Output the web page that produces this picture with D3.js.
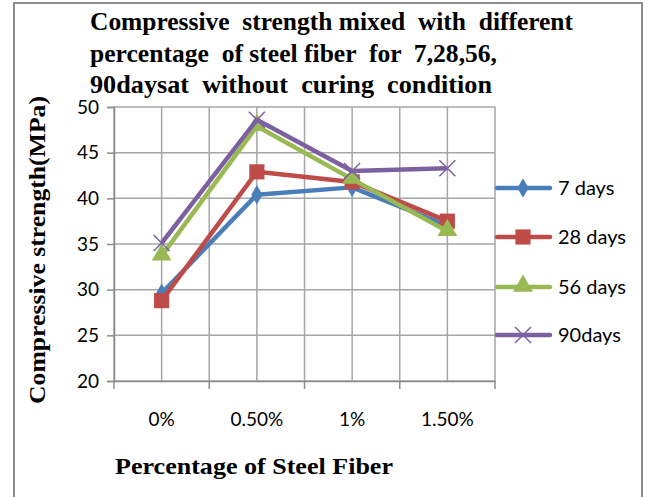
<!DOCTYPE html>
<html>
<head>
<meta charset="utf-8">
<script src="https://cdn.jsdelivr.net/npm/d3@7"></script>
<style>
  body { margin: 0; background: #fff; }
  svg { display: block; }
</style>
</head>
<body>
<div id="chart"></div>
<script>
// data
var categories = ['0%', '0.50%', '1%', '1.50%'];
var seriesNames = ['7 days', '28 days', '56 days', '90days'];
var days7  = [29.6, 40.4, 41.2, 37.0];
var days28 = [28.8, 42.9, 41.8, 37.5];
var days56 = [33.7, 47.9, 42.1, 36.4];
var days90 = [35.1, 48.6, 43.0, 43.3];
var yTicks = [20, 25, 30, 35, 40, 45, 50];

var colors = ['#4A7EBB', '#BE4B48', '#98B954', '#7D60A0'];
var symbols = ['diamond', 'square', 'triangle', 'cross'];
var allSeries = [days7, days28, days56, days90];

var W = 649, H = 497;
var plot = {left: 114, right: 495, top: 107, bottom: 381};

var svg = d3.select('#chart').append('svg')
    .attr('width', W).attr('height', H);

// outer frame
svg.append('rect')
   .attr('x', 14).attr('y', 3)
   .attr('width', 628).attr('height', 520)
   .attr('fill', 'none')
   .attr('stroke', '#8c8c8c')
   .attr('stroke-width', 2);

var x = d3.scaleBand().domain(categories).range([plot.left, plot.right]);
var y = d3.scaleLinear().domain([20, 50]).range([plot.bottom, plot.top]);

var grid = svg.append('g').attr('class', 'grid');
// horizontal grid
grid.selectAll('.hline')
    .data(yTicks)
    .enter().append('line')
    .attr('x1', plot.left).attr('x2', plot.right)
    .attr('y1', function(d) { return y(d); })
    .attr('y2', function(d) { return y(d); })
    .attr('stroke', '#a6a6a6').attr('stroke-width', 1.5);
// vertical grid at band edges and centres
var vlines = [];
categories.forEach(function(c) {
    vlines.push(x(c));
    vlines.push(x(c) + x.bandwidth() / 2);
});
vlines.push(plot.right);
grid.selectAll('.vline')
    .data(vlines)
    .enter().append('line')
    .attr('x1', function(d) { return d; }).attr('x2', function(d) { return d; })
    .attr('y1', plot.top).attr('y2', plot.bottom)
    .attr('stroke', '#a6a6a6').attr('stroke-width', 1.5);

// y axis
var yAxis = svg.append('g')
    .attr('transform', 'translate(' + plot.left + ',0)')
    .call(d3.axisLeft(y).tickValues(yTicks).tickSize(7).tickPadding(8));
yAxis.select('.domain').attr('stroke', '#8c8c8c').attr('stroke-width', 1.5);
yAxis.selectAll('.tick line').attr('stroke', '#8c8c8c').attr('stroke-width', 1.5);
yAxis.selectAll('text')
     .style('font-family', 'Lato, "Open Sans", sans-serif')
     .style('font-size', '19px').attr('fill', '#000');

// x axis
var xAxis = svg.append('g')
    .attr('transform', 'translate(0,' + plot.bottom + ')')
    .call(d3.axisBottom(x).tickSize(0).tickPadding(32));
xAxis.select('.domain').attr('stroke', '#8c8c8c').attr('stroke-width', 1.5);
xAxis.selectAll('text')
     .style('font-family', 'Lato, "Open Sans", sans-serif')
     .style('font-size', '19px').attr('fill', '#000');
// tick marks at band edges
xAxis.selectAll('.edge')
     .data(categories.map(function(c) { return x(c); }).concat([plot.right]))
     .enter().append('line')
     .attr('x1', function(d) { return d; }).attr('x2', function(d) { return d; })
     .attr('y1', 0).attr('y2', 8)
     .attr('stroke', '#8c8c8c').attr('stroke-width', 1.5);

// lines
var line = d3.line()
    .x(function(d, i) { return x(categories[i]) + x.bandwidth() / 2; })
    .y(function(d) { return y(d); });

function drawMarker(g, kind, color, cx, cy) {
    if (kind === 'diamond') {
        g.append('path')
         .attr('d', d3.symbol().type(d3.symbolDiamond).size(110)())
         .attr('transform', 'translate(' + cx + ',' + cy + ')')
         .attr('fill', color);
    } else if (kind === 'square') {
        g.append('path')
         .attr('d', d3.symbol().type(d3.symbolSquare).size(230)())
         .attr('transform', 'translate(' + cx + ',' + cy + ')')
         .attr('fill', color);
    } else if (kind === 'triangle') {
        g.append('path')
         .attr('d', d3.symbol().type(d3.symbolTriangle).size(170)())
         .attr('transform', 'translate(' + cx + ',' + (cy - 1) + ')')
         .attr('fill', color);
    } else {
        var s = 8;
        g.append('path')
         .attr('d', 'M' + (cx - s) + ',' + (cy - s) + 'L' + (cx + s) + ',' + (cy + s) +
                    'M' + (cx - s) + ',' + (cy + s) + 'L' + (cx + s) + ',' + (cy - s))
         .attr('stroke', color).attr('stroke-width', 1.5).attr('fill', 'none');
    }
}

allSeries.forEach(function(vals, si) {
    var g = svg.append('g').attr('class', 'series-' + si);
    g.append('path')
     .datum(vals)
     .attr('d', line)
     .attr('fill', 'none')
     .attr('stroke', colors[si])
     .attr('stroke-width', 4.5)
     .attr('stroke-linejoin', 'round');
    vals.forEach(function(v, i) {
        drawMarker(g, symbols[si], colors[si], x(categories[i]) + x.bandwidth() / 2, y(v));
    });
});

// legend
var legendY = [188, 237, 287, 335];
var legend = svg.append('g').attr('class', 'legend');
seriesNames.forEach(function(name, i) {
    var ly = legendY[i];
    legend.append('line')
          .attr('x1', 497).attr('x2', 550)
          .attr('y1', ly).attr('y2', ly)
          .attr('stroke', colors[i]).attr('stroke-width', 4.5)
          .attr('stroke-linecap', 'round');
    drawMarker(legend, symbols[i], colors[i], 523, ly);
    legend.append('text')
          .attr('x', 558).attr('y', ly + 7)
          .style('font-family', 'Lato, "Open Sans", sans-serif')
          .style('font-size', '20px')
          .text(name);
});

// titles
var titleLines = ['Compressive  strength mixed  with  different',
                  'percentage  of steel fiber  for  7,28,56,',
                  '90daysat  without  curing  condition'];
var titleY = [30, 62, 93];
var titleLen = [483, 407, 402];
svg.selectAll('.title')
   .data(titleLines)
   .enter().append('text')
   .attr('class', 'title')
   .attr('x', 90)
   .attr('y', function(d, i) { return titleY[i]; })
   .attr('textLength', function(d, i) { return titleLen[i]; })
   .attr('lengthAdjust', 'spacingAndGlyphs')
   .style('font-family', '"Liberation Serif", "Times New Roman", serif')
   .style('font-weight', 'bold')
   .style('font-size', '26px')
   .style('white-space', 'pre')
   .text(function(d) { return d; });

svg.append('text')
   .attr('transform', 'translate(45,250) rotate(-90)')
   .attr('text-anchor', 'middle')
   .attr('textLength', 308)
   .attr('lengthAdjust', 'spacingAndGlyphs')
   .style('font-family', '"Liberation Serif", "Times New Roman", serif')
   .style('font-weight', 'bold')
   .style('font-size', '24px')
   .text('Compressive  strength(MPa)');

svg.append('text')
   .attr('x', 254).attr('y', 474)
   .attr('text-anchor', 'middle')
   .attr('textLength', 278)
   .attr('lengthAdjust', 'spacingAndGlyphs')
   .style('font-family', '"Liberation Serif", "Times New Roman", serif')
   .style('font-weight', 'bold')
   .style('font-size', '23px')
   .text('Percentage  of  Steel Fiber');
</script>
</body>
</html>
